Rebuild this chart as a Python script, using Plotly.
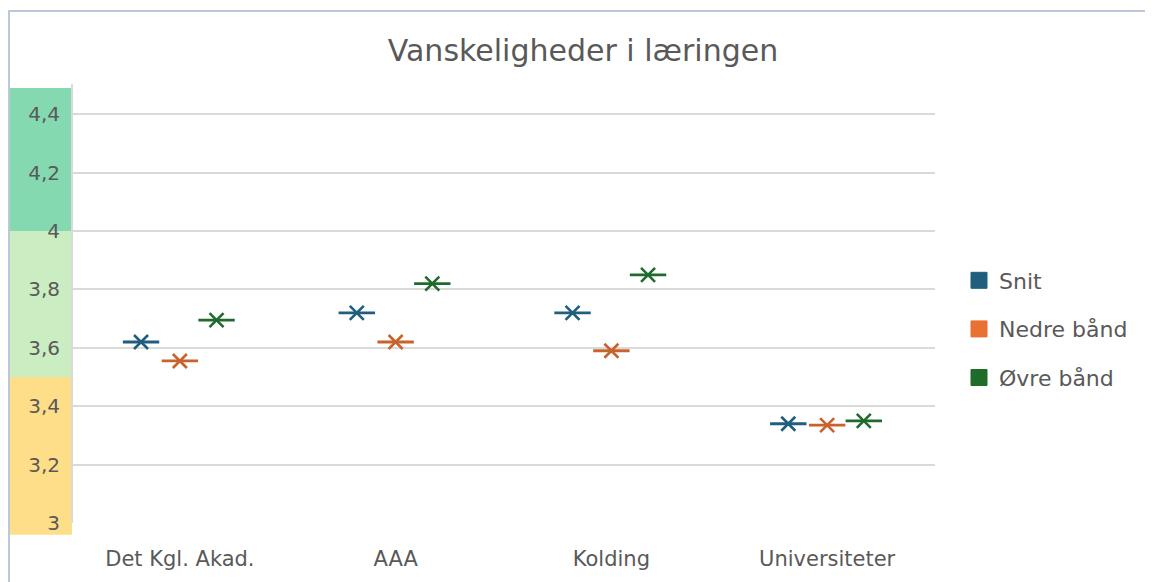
import plotly.graph_objects as go

categories = ["Det Kgl. Akad.", "AAA", "Kolding", "Universiteter"]
snit = [3.62, 3.72, 3.72, 3.34]
nedre = [3.555, 3.62, 3.59, 3.335]
ovre = [3.695, 3.82, 3.85, 3.35]
series_names = ["Snit", "Nedre bånd", "Øvre bånd"]
series_values = [snit, nedre, ovre]
series_colors = ["#1F5E7E", "#C8632D", "#1F6B2C"]
legend_colors = ["#1F5E7E", "#E97132", "#1E6B2A"]
offsets = [-0.18, 0.0, 0.17]
ytick_vals = [3.0, 3.2, 3.4, 3.6, 3.8, 4.0, 4.2, 4.4]
ytick_text = ["3", "3,2", "3,4", "3,6", "3,8", "4", "4,2", "4,4"]
bands = [(2.96, 3.5, "#FFDE89"), (3.5, 4.0, "#CBEDC2"), (4.0, 4.49, "#84D9B0")]
y_range = [3.0, 4.49]

FONT = "DejaVu Sans"

fig = go.Figure()
idx = list(range(len(categories)))
for name, vals, col, lcol, off in zip(series_names, series_values, series_colors, legend_colors, offsets):
    xs = [i + off for i in idx]
    fig.add_trace(go.Scatter(x=xs, y=vals, mode="markers", showlegend=False,
                             marker=dict(symbol="line-ew-open", size=26, color=col,
                                         line=dict(color=col, width=2.8)),
                             hoverinfo="skip"))
    fig.add_trace(go.Scatter(x=xs, y=vals, mode="markers", showlegend=False,
                             marker=dict(symbol="x-thin-open", size=14, color=col,
                                         line=dict(color=col, width=2.6)),
                             name=name))
    fig.add_trace(go.Scatter(x=[None], y=[None], mode="markers", name=name,
                             legendgroup=name,
                             marker=dict(symbol="square", size=16, color=lcol,
                                         line=dict(color=lcol, width=1))))

# page body has an 8px offset; figure coords = screen coords - 8
OFF = 8
W, H = 1153 - OFF, 582 - OFF
L, T = 72 - OFF, 88 - OFF
R = W - (935 - OFF)
B = H - (523 - OFF)
pw, ph = W - L - R, H - T - B

def py(v):
    return (v - y_range[0]) / (y_range[1] - y_range[0])

def px_x(sx):
    return (sx - OFF - L) / pw

def px_y(sy):
    return (H - B - (sy - OFF)) / ph

shapes = []
for lo, hi, c in bands:
    shapes.append(dict(type="rect", xref="paper", yref="paper", x0=px_x(10), x1=0,
                       y0=py(lo), y1=py(hi), fillcolor=c, line=dict(width=0), layer="below"))
# y axis line extending slightly above the plot
shapes.append(dict(type="line", xref="paper", yref="paper", x0=0, x1=0,
                   y0=0, y1=px_y(84), line=dict(color="#D9D9D9", width=2), layer="below"))
# outer chart frame
shapes.append(dict(type="rect", xref="paper", yref="paper",
                   x0=px_x(9), x1=px_x(1180),
                   y0=px_y(620), y1=px_y(11),
                   line=dict(color="#BCC8DA", width=2), fillcolor="rgba(0,0,0,0)", layer="below"))

fig.update_layout(
    width=W, height=H,
    margin=dict(l=L, r=R, t=T, b=B),
    paper_bgcolor="white", plot_bgcolor="white",
    font=dict(family=FONT, color="#595959"),
    title=dict(text="Vanskeligheder i læringen", x=(583 - OFF) / W, xanchor="center",
               y=1 - (50 - OFF) / H, yanchor="middle", yref="container",
               font=dict(size=30, color="#595959", family=FONT)),
    xaxis=dict(range=[-0.5, len(categories) - 0.5], tickvals=idx, ticktext=categories,
               showgrid=False, zeroline=False, showline=False, ticks="",
               tickfont=dict(size=21, color="#595959", family=FONT), ticklabelstandoff=21),
    yaxis=dict(range=y_range, tickvals=ytick_vals, ticktext=ytick_text,
               showgrid=True, gridcolor="#D9D9D9", gridwidth=2, zeroline=False,
               showline=False, ticks="",
               tickfont=dict(size=20, color="#595959", family=FONT), ticklabelstandoff=11),
    legend=dict(x=px_x(959), xanchor="left", y=px_y(329), yanchor="middle",
                font=dict(size=22, color="#595959", family=FONT), tracegroupgap=17,
                bgcolor="rgba(0,0,0,0)"),
    shapes=shapes,
)
fig.write_html("out.html")
